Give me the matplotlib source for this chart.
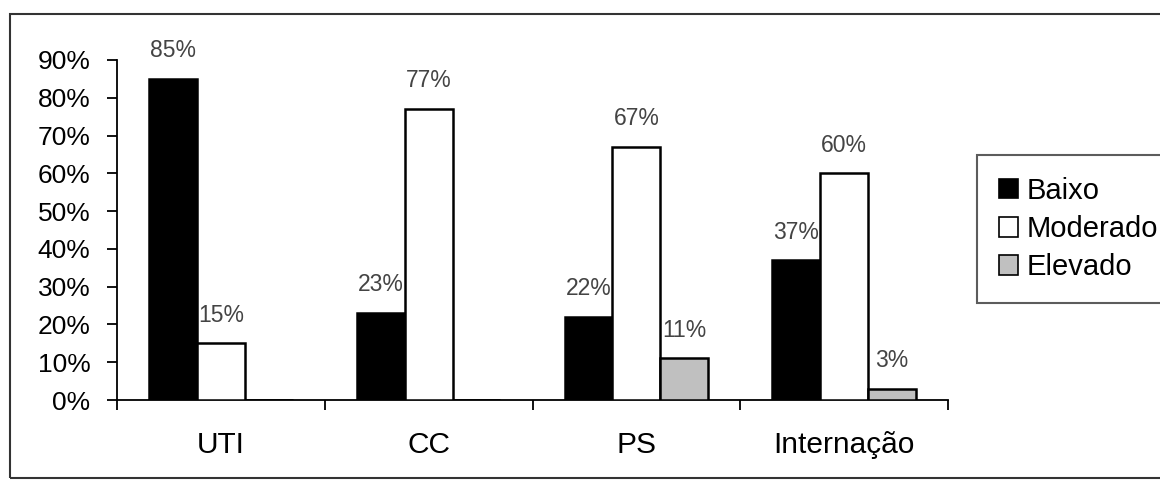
import numpy as np
import matplotlib
matplotlib.use("Agg")
from matplotlib import pyplot as plt
from matplotlib.patches import Rectangle, Patch
from matplotlib.ticker import PercentFormatter

# setores e niveis
setores = ["UTI", "CC", "PS", "Internação"]
niveis = ["Baixo", "Moderado", "Elevado"]

# percentuais por nivel em cada setor
baixo = [85, 23, 22, 37]
moderado = [15, 77, 67, 60]
elevado = [0, 0, 11, 3]

cores = ["#000000", "#ffffff", "#c0c0c0"]

plt.rcParams['font.family'] = ['Liberation Sans', 'DejaVu Sans']

fig = plt.figure(figsize=(11.6, 4.84), dpi=100)
ax = fig.add_axes([117/1160, 84/484, (948-117)/1160, (400-60)/484])

# moldura externa do grafico
fig.patches.append(Rectangle((10/1160, 6/484), 1.0, 1 - 20/484,
                             transform=fig.transFigure, fill=False,
                             edgecolor="#333333", linewidth=1.5))

x = np.arange(len(setores))
w = 0.23
series = [baixo, moderado, elevado]
for i, (vals, cor) in enumerate(zip(series, cores)):
    pos = x + (i - 1) * w
    ax.bar(pos, vals, width=w, color=cor, edgecolor="black",
           linewidth=1.8, zorder=3)
    # rotulos de valor acima das barras (ficam atras das barras vizinhas)
    for p, v in zip(pos, vals):
        if v > 0:
            ax.annotate("%d%%" % v, (p, v), xytext=(0, 12),
                        textcoords="offset points", ha="center", va="bottom",
                        fontsize=16.5, color="#444444", zorder=1)

ax.set_xlim(-0.5, len(setores) - 0.5)
ax.set_ylim(0, 90)
ax.set_yticks(np.arange(0, 91, 10))
ax.yaxis.set_major_formatter(PercentFormatter(decimals=0))
ax.tick_params(axis="y", direction="out", length=7, width=1.3,
               pad=12, labelsize=19)

# ticks nas divisas das categorias, nomes no centro
ax.set_xticks(np.arange(-0.5, len(setores), 1.0))
ax.set_xticklabels([])
ax.set_xticks(x, minor=True)
ax.set_xticklabels(setores, minor=True, fontsize=21.5)
ax.tick_params(axis="x", which="major", direction="out", length=7, width=1.3)
ax.tick_params(axis="x", which="minor", length=0, pad=22)

for s in ["top", "right"]:
    ax.spines[s].set_visible(False)
for s in ["left", "bottom"]:
    ax.spines[s].set_linewidth(1.3)

handles = [Patch(facecolor=c, edgecolor="black", linewidth=1.2) for c in cores]
leg = fig.legend(handles, niveis, loc="upper left",
                 bbox_to_anchor=(977/1160, 1 - 155/484),
                 borderaxespad=0, fancybox=False, fontsize=21,
                 handlelength=0.65, handleheight=0.65, handletextpad=0.3,
                 labelspacing=0.35, borderpad=0.75)
leg.get_frame().set_edgecolor("#333333")
leg.get_frame().set_linewidth(1.5)

fig.savefig("out.png", dpi=100)
